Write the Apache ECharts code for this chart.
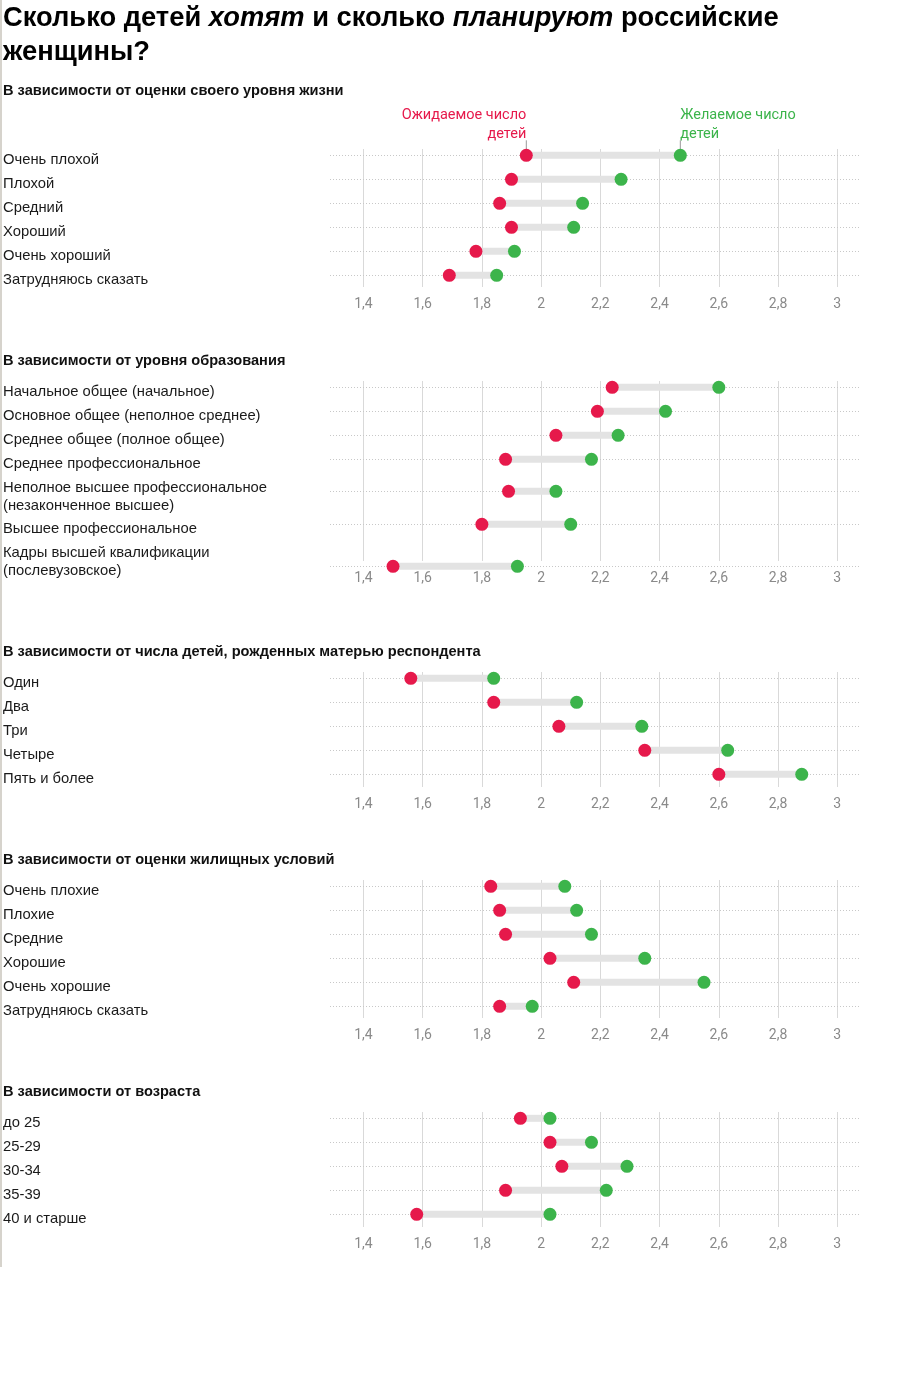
<!DOCTYPE html>
<html><head><meta charset="utf-8">
<script src="https://cdn.jsdelivr.net/npm/echarts@6/dist/echarts.min.js"></script>
<style>html,body{margin:0;padding:0;background:#fff}#c{width:908px;height:1384px}</style>
</head><body><div id="c"></div>
<script>
// ---------- DATA ----------
const livingCats = ['Очень плохой','Плохой','Средний','Хороший','Очень хороший','Затрудняюсь сказать'];
const livingExpected = [1.95,1.90,1.86,1.90,1.78,1.69];
const livingDesired  = [2.47,2.27,2.14,2.11,1.91,1.85];

const eduCats = ['Начальное общее (начальное)','Основное общее (неполное среднее)','Среднее общее (полное общее)','Среднее профессиональное','Неполное высшее профессиональное\n(незаконченное высшее)','Высшее профессиональное','Кадры высшей квалификации\n(послевузовское)'];
const eduExpected = [2.24,2.19,2.05,1.88,1.89,1.80,1.50];
const eduDesired  = [2.60,2.42,2.26,2.17,2.05,2.10,1.92];

const motherCats = ['Один','Два','Три','Четыре','Пять и более'];
const motherExpected = [1.56,1.84,2.06,2.35,2.60];
const motherDesired  = [1.84,2.12,2.34,2.63,2.88];

const housingCats = ['Очень плохие','Плохие','Средние','Хорошие','Очень хорошие','Затрудняюсь сказать'];
const housingExpected = [1.83,1.86,1.88,2.03,2.11,1.86];
const housingDesired  = [2.08,2.12,2.17,2.35,2.55,1.97];

const ageCats = ['до 25','25-29','30-34','35-39','40 и старше'];
const ageExpected = [1.93,2.03,2.07,1.88,1.58];
const ageDesired  = [2.03,2.17,2.29,2.22,2.03];

const axisMin = 1.4, axisMax = 3, axisStep = 0.2;

const sectionTitles = [
  'В зависимости от оценки своего уровня жизни',
  'В зависимости от уровня образования',
  'В зависимости от числа детей, рожденных матерью респондента',
  'В зависимости от оценки жилищных условий',
  'В зависимости от возраста'
];
const chartTitle = 'Сколько детей {i|хотят} и сколько {i|планируют} российские\nженщины?';
const legendExpected = 'Ожидаемое число\nдетей';
const legendDesired = 'Желаемое число\nдетей';

// ---------- LAYOUT (pixels, not data) ----------
const RED = '#e6194b', GREEN = '#3cb44b', BAR = '#e3e3e3';
const PLOT_L = 363.4, PLOT_R = 837.3, LINE_L = 330, LINE_R = 859;
const PXU = (PLOT_R - PLOT_L) / (axisMax - axisMin);
const extMin = axisMin - (PLOT_L - LINE_L) / PXU;
const extMax = axisMax + (LINE_R - PLOT_R) / PXU;
const ROW = 24, LABEL_SHIFT = 4.5;

const panels = [
  {cats: livingCats,  exp: livingExpected,  des: livingDesired,  rowTop: 155.3,  gaps: null, labelGaps: null, gTop: 149,  gBottom: 287,  headY: 90.5},
  {cats: eduCats,     exp: eduExpected,     des: eduDesired,     rowTop: 387.3,  gaps: [24, 24, 24, 32, 33, 42], labelGaps: [24, 24, 24, 33, 32, 33], gTop: 381, gBottom: 561, headY: 360.5},
  {cats: motherCats,  exp: motherExpected,  des: motherDesired,  rowTop: 678.3,  gaps: null, labelGaps: null, gTop: 672,  gBottom: 787,  headY: 651.5},
  {cats: housingCats, exp: housingExpected, des: housingDesired, rowTop: 886.3,  gaps: null, labelGaps: null, gTop: 880,  gBottom: 1018, headY: 859.5},
  {cats: ageCats,     exp: ageExpected,     des: ageDesired,     rowTop: 1118.3, gaps: null, labelGaps: null, gTop: 1112, gBottom: 1227, headY: 1091.5}
];

const grid = [], xAxis = [], yAxis = [], series = [];
const fmt = v => String(Math.round(v * 10) / 10).replace('.', ',');
const cumulate = (n, gaps) => { const s = [0]; for (let i = 1; i < n; i++) s.push(s[i - 1] + (gaps ? gaps[i - 1] : ROW)); return s; };

panels.forEach((p, k) => {
  const slots = cumulate(p.cats.length, p.gaps);          // row positions of the marks
  const lslots = cumulate(p.cats.length, p.labelGaps || p.gaps); // row positions of the text labels
  const total = slots[slots.length - 1];
  const ltotal = lslots[lslots.length - 1];
  const a = 3 * k, b = 3 * k + 1, c = 3 * k + 2;

  grid.push({left: LINE_L, width: LINE_R - LINE_L, top: p.rowTop, height: total});
  grid.push({left: PLOT_L, width: PLOT_R - PLOT_L, top: p.gTop, height: p.gBottom - p.gTop});
  grid.push({left: LINE_L, width: LINE_R - LINE_L, top: p.rowTop + LABEL_SHIFT, height: ltotal});

  xAxis.push({gridIndex: a, type: 'value', min: extMin, max: extMax, show: false});
  xAxis.push({gridIndex: b, type: 'value', min: axisMin, max: axisMax, interval: axisStep,
    axisLine: {show: false}, axisTick: {show: false},
    splitLine: {show: true, lineStyle: {color: '#d9d9d9', width: 1}},
    axisLabel: {color: '#8a8a8a', fontFamily: 'Roboto', fontSize: 14, margin: 10, formatter: fmt}});
  xAxis.push({gridIndex: c, type: 'value', min: extMin, max: extMax, show: false});

  yAxis.push({gridIndex: a, type: 'value', min: 0, max: total, inverse: true, show: false});
  yAxis.push({gridIndex: b, type: 'value', show: false});
  yAxis.push({gridIndex: c, type: 'value', min: 0, max: ltotal, inverse: true,
    axisLine: {show: false}, axisTick: {show: false}, splitLine: {show: false},
    axisLabel: {customValues: lslots, align: 'left', margin: LINE_L - 3, color: '#1a1a1a',
      fontFamily: 'Liberation Sans', fontSize: 14.8, lineHeight: 18, verticalAlign: 'middle',
      formatter: v => { const i = lslots.findIndex(s => Math.abs(s - v) < 0.01); return i >= 0 ? p.cats[i] : ''; }}});

  // row guide (dotted) + connector between expected and desired
  series.push({type: 'custom', xAxisIndex: a, yAxisIndex: a, clip: false,
    data: p.exp.map((v, i) => [v, p.des[i], slots[i]]),
    encode: {x: [0, 1], y: 2},
    renderItem: (params, api) => {
      const s = api.coord([api.value(0), api.value(2)]);
      const e = api.coord([api.value(1), api.value(2)]);
      const cs = params.coordSys;
      const h = 7;
      return {type: 'group', children: [
        {type: 'line', shape: {x1: cs.x, y1: Math.round(s[1]) + 0.5, x2: cs.x + cs.width, y2: Math.round(s[1]) + 0.5},
          style: {stroke: '#c8c8c8', lineWidth: 1, lineDash: [1, 2]}},
        {type: 'rect', shape: {x: Math.min(s[0], e[0]), y: s[1] - h / 2, width: Math.abs(e[0] - s[0]), height: h},
          style: {fill: BAR}}
      ]};
    }});
  series.push({type: 'scatter', xAxisIndex: a, yAxisIndex: a, clip: false, symbolSize: 13,
    itemStyle: {color: RED, opacity: 1}, data: p.exp.map((v, i) => [v, slots[i]]), z: 3});
  series.push({type: 'scatter', xAxisIndex: a, yAxisIndex: a, clip: false, symbolSize: 13,
    itemStyle: {color: GREEN, opacity: 1}, data: p.des.map((v, i) => [v, slots[i]]), z: 4});
});

const graphic = [
  {id: 'border', type: 'rect', shape: {x: 0, y: 0, width: 2, height: 1267}, style: {fill: '#d6d3cc'}, silent: true},
  {id: 'title', type: 'text', x: 3, y: 1, style: {
    text: chartTitle, fill: '#000', fontSize: 27.3, fontWeight: 'bold',
    fontFamily: 'Liberation Sans', lineHeight: 34, verticalAlign: 'top',
    rich: {i: {fontStyle: 'italic', fontWeight: 'bold', fontSize: 27.3, fontFamily: 'Liberation Sans', lineHeight: 34, fill: '#000'}}}}
];
panels.forEach((p, k) => {
  graphic.push({id: 'head' + k, type: 'text', x: 3, y: p.headY, style: {
    text: sectionTitles[k], fill: '#111', fontSize: 14.6, fontWeight: 'bold', fontFamily: 'Liberation Sans', verticalAlign: 'middle'}});
});

const chart = echarts.init(document.getElementById('c'), null, {renderer: 'canvas'});
chart.setOption({animation: false, grid, xAxis, yAxis, series, graphic});

// annotations on the first row of the first panel, positioned through the chart's own scales
const pe = chart.convertToPixel({xAxisIndex: 0, yAxisIndex: 0}, [livingExpected[0], 0]);
const pd = chart.convertToPixel({xAxisIndex: 0, yAxisIndex: 0}, [livingDesired[0], 0]);
const ann = [
  {id: 'annE', type: 'text', x: pe[0], y: pe[1] - 30.5, style: {text: legendExpected, fill: RED, fontSize: 14.5,
    fontFamily: 'Roboto', lineHeight: 19, align: 'right', verticalAlign: 'middle'}},
  {id: 'annD', type: 'text', x: pd[0], y: pd[1] - 30.5, style: {text: legendDesired, fill: GREEN, fontSize: 14.5,
    fontFamily: 'Roboto', lineHeight: 19, align: 'left', verticalAlign: 'middle'}},
  {id: 'tickE', type: 'line', shape: {x1: pe[0], y1: pe[1] - 15, x2: pe[0], y2: pe[1] - 6}, style: {stroke: '#999', lineWidth: 1}},
  {id: 'tickD', type: 'line', shape: {x1: pd[0], y1: pd[1] - 15, x2: pd[0], y2: pd[1] - 6}, style: {stroke: '#999', lineWidth: 1}}
];
chart.setOption({graphic: ann});
</script>
</body></html>
